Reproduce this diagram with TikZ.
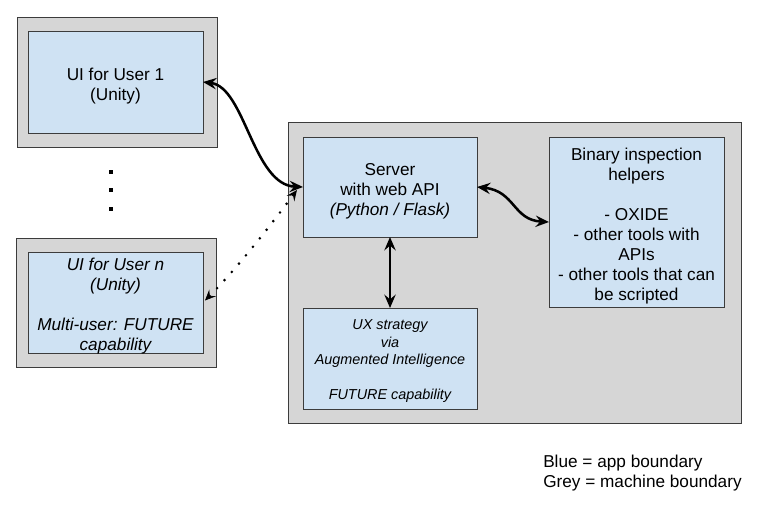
\documentclass[tikz,border=0pt]{standalone}
\usepackage{fontspec}
\setmainfont{Liberation Sans}
\usetikzlibrary{arrows.meta}
\definecolor{bluefill}{RGB}{207,226,243}
\definecolor{greyfill}{RGB}{214,214,214}
\definecolor{edgecol}{RGB}{60,60,60}
\begin{document}
\begin{tikzpicture}[x=0.75pt,y=-0.75pt,
  gbox/.style={draw=edgecol,fill=greyfill,line width=0.75pt,inner sep=0pt,outer sep=0pt,rectangle},
  bbox/.style={draw=edgecol,fill=bluefill,line width=0.75pt,inner sep=0pt,outer sep=0pt,rectangle},
  txt/.style={align=center,inner sep=0pt,font=\fontsize{12.9}{15}\selectfont},
  tip/.tip={Stealth[length=10pt,width=8.5pt,inset=3.5pt]},
  conn/.style={line width=1.9pt,tip-tip},
  dotconn/.style={line width=2.2pt,line cap=round,dash pattern=on 0pt off 8.2pt,{Stealth[length=8pt,width=7pt,inset=3pt,line width=0.5pt]}-{Stealth[length=8pt,width=7pt,inset=3pt]}},
  vdot/.style={fill=black,draw=none,rectangle,inner sep=0pt,minimum size=2.6pt}]
\useasboundingbox (0,0) rectangle (759,507);
\fill[white] (0,0) rectangle (759,507);

% machine boundaries
\node[gbox,minimum width=150pt,minimum height=97.5pt] (g1) at (117,82) {};
\node[gbox,minimum width=150pt,minimum height=96.75pt] (g2) at (116,302.5) {};
\node[gbox,minimum width=339.75pt,minimum height=225.75pt] (gbig) at (514.5,272.5) {};

% app boundaries
\node[bbox,minimum width=131.25pt,minimum height=76.5pt] (u1) at (115.5,82) {};
\node[bbox,minimum width=131.25pt,minimum height=75.75pt] (un) at (115.5,302.5) {};
\node[bbox,minimum width=130.5pt,minimum height=75pt] (srv) at (390,187) {};
\node[bbox,minimum width=131.25pt,minimum height=127.5pt] (bin) at (636.5,222) {};
\node[bbox,minimum width=130.5pt,minimum height=75.75pt] (ux) at (390,358.5) {};

% texts
\node[txt] (u1t) at ([yshift=-3]u1.center) {UI for User 1\\(Unity)};
\node[txt,font=\fontsize{12.9}{15}\selectfont\itshape] (unt) at ([yshift=-3]un.center) {UI for User n\\(Unity)\\[15pt]Multi-user: FUTURE\\capability};
\node[txt] (srvt) at ([yshift=-3]srv.center) {Server\\with web API\\\textit{(Python / Flask)}};
\node[txt] (bint) at ([yshift=-3]bin.center) {Binary inspection\\helpers\\[15pt]- OXIDE\\- other tools with\\APIs\\- other tools that can\\be scripted};
\node[txt,font=\fontsize{10.8}{13.1}\selectfont\itshape] (uxt) at ([yshift=-2]ux.center) {UX strategy\\via\\Augmented Intelligence\\[13.1pt]FUTURE capability};

% vertical ellipsis
\node[vdot] (d1) at (111,172) {};
\node[vdot] (d2) at (111,190) {};
\node[vdot] (d3) at (111,209) {};

% connectors
\draw[conn] (u1.east) .. controls +(42,5) and +(-50,-2) .. (srv.west);
\draw[dotconn] ([shift={(2,-2)}]un.east) .. controls +(30,-30) and +(-30,40) .. ([shift={(-6,3)}]srv.west);
\draw[conn] (srv.east) .. controls +(38,4) and +(-36,-2) .. (bin.west);
\draw[conn] (srv.south) -- (ux.north);

% legend
\node[anchor=west,align=left,font=\fontsize{12.9}{15}\selectfont,inner sep=0pt] (legend) at (543,473) {Blue = app boundary\\Grey = machine boundary};
\end{tikzpicture}
\end{document}
